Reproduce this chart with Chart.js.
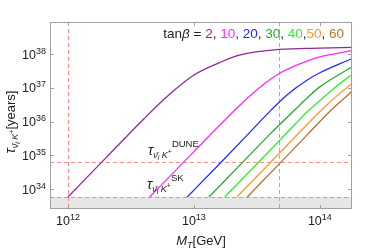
<!DOCTYPE html>
<html><head><meta charset="utf-8">
<script src="https://cdn.jsdelivr.net/npm/chart.js@4"></script>
<style>html,body{margin:0;padding:0;background:#fff}</style>
</head><body>
<canvas id="c" width="374" height="248"></canvas>
<script>
// ---- data ----
const tanBetaValues = ['2', '10', '20', '30', '40', '50', '60'];
const seriesColors = ['#8e2a95', '#ff2bff', '#2828ff', '#2ea82e', '#33ee33', '#ff9933', '#b8732e'];

const massTb2  = [1e12, 2e12, 4e12, 6e12, 1e13, 1.6e13, 2.3e13, 4.8e13, 1e14, 1.8e14];
const tauTb2   = [5.9e33, 8.5e34, 1.2e36, 5.2e36, 2.4e37, 5.6e37, 9.3e37, 1.38e38, 1.5e38, 1.58e38];
const massTb10 = [4.45e12, 1e13, 1.6e13, 2.5e13, 3.5e13, 4.8e13, 7e13, 1e14, 1.8e14];
const tauTb10  = [5.9e33, 1.3e35, 7.8e35, 4.0e36, 1.2e37, 2.7e37, 5.2e37, 8.3e37, 1.26e38];
const massTb20 = [8.85e12, 1.6e13, 2.5e13, 4.1e13, 5.6e13, 8e13, 1e14, 1.8e14];
const tauTb20  = [5.9e33, 5.7e34, 3.2e35, 2.2e36, 6.6e36, 1.74e37, 2.8e37, 7.4e37];
const massTb30 = [1.315e13, 2.5e13, 4e13, 6.3e13, 8e13, 1e14, 1.8e14];
const tauTb30  = [5.9e33, 6.9e34, 4.2e35, 2.2e36, 5.2e36, 1.07e37, 4.2e37];
const massTb40 = [1.754e13, 3.16e13, 5e13, 8.2e13, 1e14, 1.35e14, 1.8e14];
const tauTb40  = [5.9e33, 5.6e34, 3.3e35, 2.2e36, 4.2e36, 1.1e37, 2.5e37];
const massTb50 = [2.19e13, 4e13, 6.3e13, 1.03e14, 1.35e14, 1.8e14];
const tauTb50  = [5.9e33, 5.9e34, 3.4e35, 2.2e36, 5.6e36, 1.35e37];
const massTb60 = [2.65e13, 5e13, 7.9e13, 1.23e14, 1.8e14];
const tauTb60  = [5.9e33, 6.8e34, 4e35, 2.2e36, 7.9e36];

const skLimit = 5.9e33;
const duneLimit = 6.3e34;
const verticalMarks = [1e12, 4.75e13];

const xTickValues = [1e12, 1e13, 1e14];
const xTickExps = ['12', '13', '14'];
const yTickValues = [1e34, 1e35, 1e36, 1e37, 1e38];
const yTickExps = ['34', '35', '36', '37', '38'];

const xRange = [7.2e11, 1.8e14];
const yRange = [2.6e33, 8.9e38];

// ---- build ----
const masses = [massTb2, massTb10, massTb20, massTb30, massTb40, massTb50, massTb60];
const taus = [tauTb2, tauTb10, tauTb20, tauTb30, tauTb40, tauTb50, tauTb60];
const datasets = masses.map((m, i) => ({
  label: 'tanβ=' + tanBetaValues[i],
  data: m.map((v, j) => ({x: v, y: taus[i][j]})),
  borderColor: seriesColors[i],
  borderWidth: 1.3,
  pointRadius: 0,
  showLine: true,
  fill: false,
  cubicInterpolationMode: 'monotone'
}));

const FONT = '"Liberation Sans", Arial, sans-serif';
function fnt(size, italic) { return (italic ? 'italic ' : '') + size + 'px ' + FONT; }
function richWidth(ctx, parts) {
  let w = 0;
  for (const p of parts) { ctx.font = fnt(p.s, p.i); w += ctx.measureText(p.t).width; }
  return w;
}
function drawRich(ctx, x, y, parts, align) {
  const w = richWidth(ctx, parts);
  let cx = align === 'right' ? x - w : align === 'center' ? x - w / 2 : x;
  ctx.textBaseline = 'alphabetic';
  ctx.textAlign = 'left';
  for (const p of parts) {
    ctx.font = fnt(p.s, p.i);
    ctx.fillStyle = p.c || '#222';
    ctx.fillText(p.t, cx, y + (p.dy || 0));
    cx += ctx.measureText(p.t).width;
  }
}
function tauSub() {
  return [
    {t: 'τ', s: 14, i: true},
    {t: 'ν\u0304', s: 9, i: true, dy: 3},
    {t: 'i', s: 7, i: true, dy: 5},
    {t: ' K', s: 9, i: true, dy: 3},
    {t: '+', s: 7, dy: -1}
  ];
}

const deco = {
  id: 'deco',
  beforeDatasetsDraw(chart) {
    const {ctx, chartArea: a, scales: {x, y}} = chart;
    ctx.save();
    const ySK = y.getPixelForValue(skLimit);
    ctx.fillStyle = '#e6e6e6';
    ctx.fillRect(a.left, ySK, a.right - a.left, a.bottom - ySK);
    ctx.strokeStyle = 'rgba(255,130,130,0.95)';
    ctx.lineWidth = 1;
    ctx.setLineDash([4, 3]);
    for (const v of [skLimit, duneLimit]) {
      const py = Math.round(y.getPixelForValue(v)) + 0.5;
      ctx.beginPath(); ctx.moveTo(a.left, py); ctx.lineTo(a.right, py); ctx.stroke();
    }
    for (const v of verticalMarks) {
      const px = Math.round(x.getPixelForValue(v)) + 0.5;
      ctx.beginPath(); ctx.moveTo(px, a.top); ctx.lineTo(px, a.bottom); ctx.stroke();
    }
    ctx.restore();
  },
  afterDatasetsDraw(chart) {
    const {ctx, chartArea: a, scales: {x, y}} = chart;
    ctx.save();
    // frame
    ctx.strokeStyle = '#a0a0a0';
    ctx.lineWidth = 1;
    ctx.strokeRect(Math.round(a.left) + 0.5, Math.round(a.top) + 0.5,
                   Math.round(a.right - a.left) - 1, Math.round(a.bottom - a.top) - 1);
    // inward ticks
    ctx.beginPath();
    for (const v of xTickValues) {
      const px = Math.round(x.getPixelForValue(v)) + 0.5;
      ctx.moveTo(px, a.bottom); ctx.lineTo(px, a.bottom - 4);
      ctx.moveTo(px, a.top); ctx.lineTo(px, a.top + 4);
    }
    for (const v of yTickValues) {
      const py = Math.round(y.getPixelForValue(v)) + 0.5;
      ctx.moveTo(a.left, py); ctx.lineTo(a.left + 4, py);
      ctx.moveTo(a.right, py); ctx.lineTo(a.right - 4, py);
    }
    ctx.stroke();
    // tick labels
    xTickValues.forEach((v, i) => {
      const px = x.getPixelForValue(v);
      drawRich(ctx, px, a.bottom + 16, [
        {t: '10', s: 12.5}, {t: xTickExps[i], s: 9, dy: -5}
      ], 'center');
    });
    yTickValues.forEach((v, i) => {
      const py = y.getPixelForValue(v);
      drawRich(ctx, a.left - 4, py + 4.5, [
        {t: '10', s: 12.5}, {t: yTickExps[i], s: 9, dy: -5}
      ], 'right');
    });
    // x title
    drawRich(ctx, 201, 245, [
      {t: 'M', s: 13, i: true}, {t: 'T', s: 9, i: true, dy: 3}, {t: '[GeV]', s: 13}
    ], 'center');
    // y title (rotated)
    ctx.save();
    ctx.translate(15, 122);
    ctx.rotate(-Math.PI / 2);
    drawRich(ctx, 0, 0, tauSub().concat([{t: '[years]', s: 13}]), 'center');
    ctx.restore();
    // annotations
    drawRich(ctx, 148, 155, tauSub().concat([{t: 'DUNE', s: 9.5, dy: -8}]), 'left');
    drawRich(ctx, 147, 189, tauSub().concat([{t: 'SK', s: 9.5, dy: -8}]), 'left');
    // legend line
    const parts = [{t: 'tan', s: 13.5}, {t: 'β', s: 13.5, i: true}, {t: ' = ', s: 13.5}];
    tanBetaValues.forEach((t, i) => {
      parts.push({t: t, s: 13.5, c: seriesColors[i]});
      if (i < tanBetaValues.length - 1) parts.push({t: i === 4 ? ',' : ', ', s: 13.5});
    });
    drawRich(ctx, 344, 38, parts, 'right');
    ctx.restore();
  }
};

new Chart(document.getElementById('c'), {
  type: 'scatter',
  data: {datasets},
  options: {
    responsive: false,
    animation: false,
    layout: {padding: {left: 50, right: 22, top: 22, bottom: 39}},
    plugins: {legend: {display: false}, tooltip: {enabled: false}},
    scales: {
      x: {type: 'logarithmic', min: xRange[0], max: xRange[1], display: false},
      y: {type: 'logarithmic', min: yRange[0], max: yRange[1], display: false}
    }
  },
  plugins: [deco]
});
</script></body></html>
